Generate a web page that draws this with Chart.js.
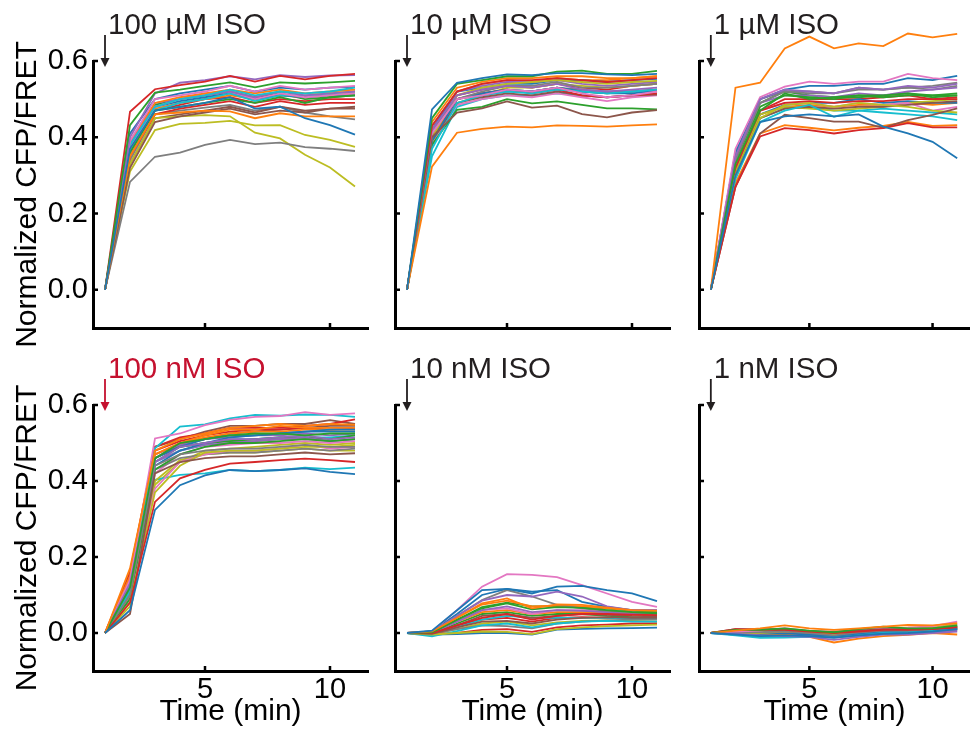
<!DOCTYPE html>
<html>
<head>
<meta charset="utf-8">
<script src="https://cdn.jsdelivr.net/npm/chart.js@4.4.1/dist/chart.umd.min.js"></script>
<style>
  body { margin: 0; background: #fff; }
  #wrap { position: relative; width: 970px; height: 733px; overflow: hidden; }
  #wrap canvas { position: absolute; left: 0; top: 0; }
</style>
</head>
<body>
<div id="wrap"></div>
<script>
// time points (min)
const time = [1, 2, 3, 4, 5, 6, 7, 8, 9, 10, 11]
const xTicks = [5, 10]
const yTicks = [0, 0.2, 0.4, 0.6]
const titles = ['100 µM ISO', '10 µM ISO', '1 µM ISO', '100 nM ISO', '10 nM ISO', '1 nM ISO']

// normalized CFP/FRET, one row per cell
const iso100uM = [
  [0, 0.37, 0.47, 0.48, 0.49, 0.505, 0.475, 0.48, 0.45, 0.432, 0.407],
  [0, 0.35, 0.46, 0.465, 0.47, 0.468, 0.45, 0.463, 0.455, 0.455, 0.455],
  [0, 0.432, 0.517, 0.525, 0.535, 0.544, 0.531, 0.544, 0.541, 0.544, 0.548],
  [0, 0.467, 0.526, 0.537, 0.546, 0.561, 0.546, 0.561, 0.552, 0.561, 0.566],
  [0, 0.40, 0.515, 0.543, 0.55, 0.56, 0.552, 0.563, 0.558, 0.562, 0.563],
  [0, 0.32, 0.44, 0.455, 0.465, 0.475, 0.46, 0.47, 0.465, 0.475, 0.48],
  [0, 0.39, 0.50, 0.51, 0.52, 0.535, 0.52, 0.535, 0.525, 0.53, 0.535],
  [0, 0.283, 0.349, 0.36, 0.38, 0.393, 0.382, 0.386, 0.374, 0.37, 0.364],
  [0, 0.33, 0.45, 0.455, 0.458, 0.455, 0.412, 0.397, 0.354, 0.321, 0.271],
  [0, 0.38, 0.48, 0.50, 0.51, 0.525, 0.51, 0.52, 0.515, 0.52, 0.53],
  [0, 0.41, 0.50, 0.515, 0.525, 0.535, 0.52, 0.53, 0.525, 0.53, 0.532],
  [0, 0.39, 0.49, 0.505, 0.515, 0.525, 0.515, 0.525, 0.515, 0.52, 0.525],
  [0, 0.36, 0.47, 0.48, 0.49, 0.50, 0.49, 0.505, 0.49, 0.505, 0.51],
  [0, 0.35, 0.46, 0.475, 0.485, 0.495, 0.48, 0.495, 0.485, 0.49, 0.49],
  [0, 0.38, 0.49, 0.50, 0.51, 0.52, 0.505, 0.52, 0.51, 0.515, 0.52],
  [0, 0.33, 0.45, 0.46, 0.47, 0.48, 0.465, 0.48, 0.47, 0.475, 0.475],
  [0, 0.37, 0.48, 0.50, 0.515, 0.52, 0.50, 0.515, 0.505, 0.51, 0.515],
  [0, 0.34, 0.46, 0.47, 0.478, 0.485, 0.47, 0.48, 0.465, 0.455, 0.447],
  [0, 0.31, 0.419, 0.435, 0.438, 0.443, 0.431, 0.432, 0.406, 0.393, 0.375],
  [0, 0.36, 0.47, 0.49, 0.50, 0.515, 0.495, 0.51, 0.51, 0.515, 0.52],
  [0, 0.39, 0.48, 0.495, 0.505, 0.515, 0.50, 0.51, 0.505, 0.51, 0.51],
  [0, 0.36, 0.475, 0.49, 0.50, 0.51, 0.50, 0.51, 0.505, 0.51, 0.515],
  [0, 0.38, 0.485, 0.50, 0.51, 0.52, 0.505, 0.515, 0.50, 0.505, 0.51],
  [0, 0.37, 0.47, 0.485, 0.50, 0.505, 0.49, 0.50, 0.495, 0.50, 0.50],
]

const iso10uM = [
  [0, 0.473, 0.543, 0.555, 0.565, 0.563, 0.568, 0.568, 0.565, 0.563, 0.566],
  [0, 0.323, 0.412, 0.422, 0.428, 0.426, 0.431, 0.43, 0.428, 0.431, 0.434],
  [0, 0.45, 0.54, 0.55, 0.56, 0.56, 0.572, 0.575, 0.566, 0.566, 0.574],
  [0, 0.43, 0.52, 0.54, 0.55, 0.55, 0.555, 0.55, 0.545, 0.55, 0.555],
  [0, 0.42, 0.51, 0.525, 0.535, 0.53, 0.54, 0.525, 0.52, 0.525, 0.53],
  [0, 0.40, 0.465, 0.476, 0.494, 0.478, 0.483, 0.461, 0.452, 0.465, 0.471],
  [0, 0.41, 0.50, 0.51, 0.525, 0.52, 0.53, 0.515, 0.505, 0.51, 0.52],
  [0, 0.42, 0.50, 0.52, 0.535, 0.535, 0.545, 0.53, 0.53, 0.535, 0.54],
  [0, 0.40, 0.51, 0.53, 0.54, 0.545, 0.55, 0.545, 0.54, 0.545, 0.548],
  [0, 0.37, 0.49, 0.51, 0.52, 0.515, 0.525, 0.52, 0.515, 0.52, 0.525],
  [0, 0.39, 0.50, 0.515, 0.525, 0.52, 0.53, 0.52, 0.515, 0.515, 0.522],
  [0, 0.44, 0.53, 0.545, 0.555, 0.555, 0.56, 0.56, 0.555, 0.555, 0.56],
  [0, 0.38, 0.472, 0.48, 0.50, 0.489, 0.494, 0.485, 0.476, 0.476, 0.473],
  [0, 0.40, 0.50, 0.515, 0.525, 0.515, 0.525, 0.51, 0.505, 0.51, 0.515],
  [0, 0.43, 0.52, 0.535, 0.545, 0.545, 0.55, 0.54, 0.535, 0.54, 0.545],
  [0, 0.39, 0.49, 0.505, 0.515, 0.51, 0.52, 0.51, 0.505, 0.51, 0.512],
  [0, 0.38, 0.485, 0.50, 0.51, 0.505, 0.515, 0.505, 0.495, 0.505, 0.51],
  [0, 0.41, 0.50, 0.51, 0.52, 0.52, 0.53, 0.525, 0.52, 0.52, 0.525],
  [0, 0.38, 0.49, 0.51, 0.53, 0.53, 0.54, 0.535, 0.53, 0.535, 0.54],
  [0, 0.35, 0.48, 0.50, 0.51, 0.51, 0.515, 0.51, 0.505, 0.51, 0.515],
  [0, 0.42, 0.52, 0.53, 0.54, 0.54, 0.55, 0.55, 0.545, 0.55, 0.553],
  [0, 0.42, 0.52, 0.54, 0.55, 0.545, 0.555, 0.55, 0.55, 0.555, 0.56],
  [0, 0.40, 0.50, 0.515, 0.525, 0.52, 0.53, 0.52, 0.515, 0.52, 0.525],
  [0, 0.41, 0.51, 0.525, 0.535, 0.53, 0.54, 0.53, 0.525, 0.535, 0.54],
]

const iso1uM = [
  [0, 0.30, 0.44, 0.455, 0.46, 0.455, 0.46, 0.428, 0.41, 0.388, 0.345],
  [0, 0.530, 0.543, 0.633, 0.664, 0.633, 0.646, 0.639, 0.672, 0.662, 0.671],
  [0, 0.33, 0.47, 0.515, 0.50, 0.505, 0.51, 0.51, 0.515, 0.505, 0.51],
  [0, 0.27, 0.402, 0.424, 0.419, 0.410, 0.419, 0.424, 0.437, 0.426, 0.426],
  [0, 0.35, 0.50, 0.525, 0.52, 0.515, 0.53, 0.525, 0.535, 0.53, 0.54],
  [0, 0.27, 0.41, 0.459, 0.45, 0.441, 0.441, 0.425, 0.445, 0.459, 0.476],
  [0, 0.37, 0.505, 0.533, 0.546, 0.54, 0.546, 0.546, 0.566, 0.555, 0.55],
  [0, 0.34, 0.49, 0.52, 0.515, 0.515, 0.53, 0.525, 0.53, 0.535, 0.543],
  [0, 0.30, 0.45, 0.485, 0.49, 0.48, 0.49, 0.485, 0.48, 0.47, 0.465],
  [0, 0.29, 0.44, 0.47, 0.485, 0.454, 0.47, 0.465, 0.46, 0.455, 0.445],
  [0, 0.36, 0.50, 0.525, 0.535, 0.535, 0.54, 0.54, 0.555, 0.55, 0.561],
  [0, 0.28, 0.41, 0.432, 0.425, 0.418, 0.425, 0.43, 0.44, 0.43, 0.432],
  [0, 0.34, 0.48, 0.51, 0.505, 0.50, 0.51, 0.505, 0.51, 0.51, 0.515],
  [0, 0.32, 0.47, 0.49, 0.495, 0.49, 0.495, 0.495, 0.50, 0.50, 0.50],
  [0, 0.35, 0.49, 0.51, 0.51, 0.505, 0.515, 0.51, 0.52, 0.525, 0.53],
  [0, 0.30, 0.45, 0.475, 0.48, 0.475, 0.48, 0.48, 0.485, 0.49, 0.495],
  [0, 0.33, 0.47, 0.49, 0.49, 0.48, 0.49, 0.485, 0.49, 0.47, 0.48],
  [0, 0.35, 0.50, 0.52, 0.52, 0.515, 0.525, 0.525, 0.53, 0.525, 0.535],
  [0, 0.31, 0.46, 0.48, 0.475, 0.47, 0.475, 0.48, 0.49, 0.495, 0.50],
  [0, 0.30, 0.45, 0.475, 0.48, 0.47, 0.47, 0.475, 0.47, 0.465, 0.46],
  [0, 0.32, 0.46, 0.485, 0.49, 0.49, 0.50, 0.49, 0.495, 0.49, 0.49],
  [0, 0.31, 0.46, 0.48, 0.485, 0.48, 0.485, 0.485, 0.49, 0.485, 0.49],
  [0, 0.36, 0.49, 0.52, 0.51, 0.505, 0.505, 0.51, 0.515, 0.51, 0.51],
  [0, 0.31, 0.47, 0.50, 0.50, 0.50, 0.50, 0.505, 0.51, 0.50, 0.505],
]

const iso100nM = [
  [0, 0.06, 0.324, 0.389, 0.415, 0.429, 0.426, 0.429, 0.433, 0.424, 0.418],
  [0, 0.17, 0.48, 0.51, 0.525, 0.54, 0.545, 0.55, 0.545, 0.55, 0.548],
  [0, 0.12, 0.46, 0.50, 0.51, 0.52, 0.525, 0.525, 0.52, 0.525, 0.525],
  [0, 0.08, 0.345, 0.407, 0.429, 0.446, 0.45, 0.455, 0.459, 0.455, 0.45],
  [0, 0.13, 0.45, 0.49, 0.50, 0.51, 0.51, 0.515, 0.52, 0.51, 0.515],
  [0, 0.05, 0.42, 0.45, 0.46, 0.465, 0.465, 0.47, 0.475, 0.47, 0.473],
  [0, 0.14, 0.512, 0.525, 0.547, 0.561, 0.569, 0.571, 0.581, 0.574, 0.578],
  [0, 0.10, 0.44, 0.47, 0.48, 0.485, 0.485, 0.49, 0.495, 0.49, 0.49],
  [0, 0.08, 0.37, 0.44, 0.475, 0.48, 0.48, 0.485, 0.49, 0.49, 0.495],
  [0, 0.11, 0.486, 0.543, 0.549, 0.565, 0.574, 0.572, 0.575, 0.574, 0.569],
  [0, 0.11, 0.44, 0.48, 0.50, 0.515, 0.52, 0.525, 0.53, 0.535, 0.535],
  [0, 0.15, 0.47, 0.50, 0.52, 0.535, 0.535, 0.545, 0.54, 0.54, 0.54],
  [0, 0.09, 0.43, 0.47, 0.49, 0.50, 0.50, 0.505, 0.51, 0.505, 0.51],
  [0, 0.16, 0.49, 0.515, 0.525, 0.54, 0.54, 0.54, 0.545, 0.55, 0.562],
  [0, 0.12, 0.45, 0.48, 0.495, 0.50, 0.505, 0.51, 0.515, 0.505, 0.51],
  [0, 0.15, 0.49, 0.51, 0.53, 0.545, 0.545, 0.55, 0.55, 0.56, 0.55],
  [0, 0.09, 0.38, 0.45, 0.47, 0.48, 0.48, 0.485, 0.495, 0.485, 0.49],
  [0, 0.10, 0.43, 0.46, 0.47, 0.475, 0.475, 0.48, 0.485, 0.48, 0.485],
  [0, 0.07, 0.40, 0.455, 0.47, 0.475, 0.475, 0.48, 0.485, 0.48, 0.48],
  [0, 0.12, 0.403, 0.416, 0.42, 0.429, 0.426, 0.429, 0.435, 0.431, 0.435],
  [0, 0.13, 0.46, 0.49, 0.51, 0.52, 0.52, 0.525, 0.53, 0.53, 0.53],
  [0, 0.14, 0.47, 0.50, 0.515, 0.525, 0.53, 0.53, 0.535, 0.535, 0.535],
  [0, 0.11, 0.45, 0.49, 0.50, 0.505, 0.51, 0.515, 0.515, 0.51, 0.52],
  [0, 0.13, 0.48, 0.505, 0.52, 0.53, 0.535, 0.535, 0.54, 0.535, 0.538],
  [0, 0.14, 0.47, 0.495, 0.51, 0.515, 0.52, 0.52, 0.525, 0.52, 0.525],
  [0, 0.12, 0.46, 0.495, 0.51, 0.525, 0.53, 0.535, 0.54, 0.545, 0.545],
  [0, 0.10, 0.42, 0.47, 0.49, 0.495, 0.50, 0.50, 0.505, 0.50, 0.505],
  [0, 0.13, 0.46, 0.49, 0.50, 0.505, 0.505, 0.51, 0.51, 0.505, 0.51],
  [0, 0.09, 0.39, 0.45, 0.48, 0.485, 0.49, 0.495, 0.50, 0.495, 0.50],
  [0, 0.12, 0.45, 0.48, 0.495, 0.51, 0.51, 0.515, 0.515, 0.515, 0.52],
]

const iso10nM = [
  [0, 0.006, 0.06, 0.113, 0.116, 0.104, 0.122, 0.124, 0.113, 0.104, 0.084],
  [0, 0.004, 0.04, 0.078, 0.091, 0.065, 0.075, 0.074, 0.067, 0.06, 0.058],
  [0, 0.002, 0.035, 0.065, 0.078, 0.062, 0.068, 0.066, 0.06, 0.055, 0.052],
  [0, 0.0, 0.02, 0.04, 0.05, 0.035, 0.045, 0.05, 0.05, 0.048, 0.047],
  [0, 0.003, 0.045, 0.085, 0.10, 0.096, 0.109, 0.096, 0.07, 0.06, 0.06],
  [0, -0.002, 0.015, 0.03, 0.032, 0.025, 0.035, 0.04, 0.042, 0.04, 0.04],
  [0, 0.004, 0.06, 0.122, 0.155, 0.153, 0.147, 0.126, 0.104, 0.082, 0.069],
  [0, 0.002, 0.045, 0.087, 0.113, 0.096, 0.074, 0.065, 0.058, 0.055, 0.05],
  [0, -0.004, 0.0, 0.004, 0.003, -0.003, 0.01, 0.015, 0.018, 0.02, 0.022],
  [0, -0.009, 0.005, 0.02, 0.025, 0.015, 0.025, 0.03, 0.032, 0.03, 0.03],
  [0, -0.004, -0.003, 0.0, 0.0, -0.004, 0.009, 0.011, 0.012, 0.013, 0.014],
  [0, 0.002, 0.04, 0.075, 0.085, 0.07, 0.072, 0.07, 0.065, 0.06, 0.06],
  [0, 0.001, 0.035, 0.068, 0.08, 0.07, 0.07, 0.068, 0.065, 0.058, 0.055],
  [0, -0.003, 0.0, 0.008, 0.01, 0.003, 0.015, 0.02, 0.022, 0.025, 0.025],
  [0, 0.0, 0.03, 0.06, 0.07, 0.055, 0.06, 0.058, 0.055, 0.05, 0.05],
  [0, -0.001, 0.02, 0.045, 0.05, 0.04, 0.045, 0.05, 0.048, 0.045, 0.044],
  [0, 0.001, 0.03, 0.06, 0.065, 0.05, 0.06, 0.06, 0.055, 0.05, 0.048],
  [0, -0.002, 0.01, 0.02, 0.018, 0.012, 0.025, 0.03, 0.033, 0.035, 0.035],
  [0, -0.003, 0.01, 0.025, 0.03, 0.02, 0.028, 0.032, 0.033, 0.032, 0.03],
  [0, -0.005, 0.015, 0.035, 0.045, 0.04, 0.04, 0.04, 0.04, 0.038, 0.038],
  [0, 0.004, 0.05, 0.10, 0.116, 0.109, 0.113, 0.082, 0.069, 0.06, 0.058],
  [0, 0.001, 0.03, 0.055, 0.06, 0.05, 0.055, 0.055, 0.052, 0.05, 0.05],
  [0, 0.0, 0.025, 0.05, 0.055, 0.045, 0.05, 0.05, 0.045, 0.042, 0.04],
  [0, 0.0, 0.02, 0.035, 0.04, 0.03, 0.04, 0.042, 0.04, 0.038, 0.037],
]

const iso1nM = [
  [0, -0.004, -0.008, -0.006, -0.008, -0.012, -0.006, -0.002, 0.0, 0.004, 0.01],
  [0, 0.006, 0.012, 0.02, 0.012, 0.008, 0.012, 0.017, 0.021, 0.02, 0.026],
  [0, 0.008, 0.008, 0.012, 0.006, 0.002, 0.01, 0.017, 0.012, 0.012, 0.02],
  [0, 0.01, 0.008, 0.008, 0.004, 0.0, 0.004, 0.008, 0.008, 0.01, 0.014],
  [0, -0.002, -0.006, -0.008, -0.01, -0.018, -0.01, -0.004, -0.004, 0.0, 0.004],
  [0, 0.01, 0.01, 0.01, 0.005, 0.002, 0.006, 0.01, 0.01, 0.012, 0.016],
  [0, 0.004, 0.006, 0.013, 0.005, 0.004, 0.008, 0.012, 0.014, 0.018, 0.03],
  [0, 0.002, 0.002, 0.004, 0.0, -0.006, 0.002, 0.006, 0.006, 0.01, 0.018],
  [0, 0.0, 0.0, 0.004, 0.002, -0.004, 0.004, 0.008, 0.01, 0.014, 0.022],
  [0, -0.006, -0.013, -0.012, -0.01, -0.012, -0.006, 0.0, 0.002, 0.006, 0.01],
  [0, 0.0, -0.002, 0.0, -0.004, -0.008, -0.002, 0.002, 0.004, 0.006, 0.012],
  [0, -0.002, -0.006, -0.004, -0.01, -0.025, -0.015, -0.008, -0.005, 0.0, -0.004],
  [0, 0.004, 0.004, 0.006, 0.002, -0.002, 0.006, 0.01, 0.008, 0.01, 0.016],
  [0, 0.006, 0.004, 0.002, -0.002, -0.006, 0.0, 0.004, 0.004, 0.008, 0.01],
  [0, 0.0, -0.004, -0.004, -0.006, -0.012, -0.006, 0.0, 0.0, 0.004, 0.006],
  [0, 0.004, 0.002, 0.006, 0.0, -0.004, 0.002, 0.006, 0.008, 0.01, 0.012],
  [0, 0.002, 0.004, 0.008, 0.002, -0.002, 0.004, 0.008, 0.012, 0.014, 0.024],
  [0, 0.0, 0.0, 0.0, -0.004, -0.008, -0.002, 0.004, 0.006, 0.008, 0.014],
  [0, 0.002, 0.002, 0.006, 0.0, -0.006, 0.002, 0.006, 0.008, 0.012, 0.018],
  [0, -0.004, -0.01, -0.008, -0.008, -0.01, -0.004, 0.0, 0.002, 0.004, 0.008],
]

const panelData = [iso100uM, iso10uM, iso1uM, iso100nM, iso10nM, iso1nM]

// layout + style
const tab10 = ['#1f77b4', '#ff7f0e', '#2ca02c', '#d62728', '#9467bd',
               '#8c564b', '#e377c2', '#7f7f7f', '#bcbd22', '#17becf']
const titleColors = ['#231f20', '#231f20', '#231f20', '#c5112f', '#231f20', '#231f20']
const W = 970, H = 733
const colLeft = [93, 395, 699]
const rowTop = [61, 405]
const rowBottom = [328, 671]
const plotW = 275
const fontFam = '"Liberation Sans", Arial, Helvetica, sans-serif'

// panel title, stimulus arrow and inward tick marks
const decor = {
    id: 'decor',
    afterDraw(chart, args, opts) {
        const { ctx, chartArea } = chart
        const xs = chart.scales.x, ys = chart.scales.y
        ctx.save()
        ctx.strokeStyle = '#000'
        ctx.lineWidth = 2.5
        ctx.beginPath()
        yTicks.forEach(v => {
            const y = ys.getPixelForValue(v)
            ctx.moveTo(chartArea.left, y)
            ctx.lineTo(chartArea.left + 5, y)
        })
        xTicks.forEach(v => {
            const x = xs.getPixelForValue(v)
            ctx.moveTo(x, chartArea.bottom)
            ctx.lineTo(x, chartArea.bottom - 5)
        })
        ctx.stroke()

        const ax = xs.getPixelForValue(time[0])
        const top = chartArea.top
        ctx.strokeStyle = opts.color
        ctx.fillStyle = opts.color
        ctx.lineWidth = 1.8
        ctx.beginPath()
        ctx.moveTo(ax, top - 26)
        ctx.lineTo(ax, top)
        ctx.stroke()
        ctx.beginPath()
        ctx.moveTo(ax - 4.5, top - 3)
        ctx.lineTo(ax + 4.5, top - 3)
        ctx.lineTo(ax, top + 6)
        ctx.closePath()
        ctx.fill()

        ctx.font = '29.5px ' + fontFam
        ctx.textAlign = 'left'
        ctx.textBaseline = 'alphabetic'
        ctx.fillText(opts.title, ax + 3, top - 27.5)
        ctx.restore()
    }
}

const wrap = document.getElementById('wrap')

panelData.forEach((rows, i) => {
    const col = i % 3
    const row = Math.floor(i / 3)
    const showY = col === 0
    const showX = row === 1
    const yW = showY ? 93 : 0
    const xH = showX ? 62 : 0

    const cv = document.createElement('canvas')
    cv.width = W
    cv.height = H
    wrap.appendChild(cv)

    const datasets = rows.map((vals, k) => ({
        data: vals.map((v, j) => ({ x: time[j], y: v })),
        borderColor: tab10[k % 10],
        borderWidth: 1.8,
        pointRadius: 0,
        tension: 0,
        clip: false,
    }))

    new Chart(cv, {
        type: 'line',
        data: { datasets },
        options: {
            responsive: false,
            animation: false,
            devicePixelRatio: 1,
            layout: {
                padding: {
                    left: colLeft[col] - yW,
                    right: W - colLeft[col] - plotW,
                    top: rowTop[row],
                    bottom: H - rowBottom[row] - xH,
                },
            },
            plugins: {
                legend: { display: false },
                tooltip: { enabled: false },
                decor: { title: titles[i], color: titleColors[i] },
            },
            scales: {
                x: {
                    type: 'linear',
                    min: 0.52,
                    max: 11.52,
                    afterBuildTicks: s => { s.ticks = xTicks.map(v => ({ value: v })) },
                    afterFit: s => { s.height = xH },
                    grid: { display: false, drawTicks: false },
                    border: { display: true, color: '#000', width: 3 },
                    ticks: { display: showX, padding: 2, color: '#000', font: { family: fontFam, size: 29 } },
                    title: {
                        display: showX,
                        text: 'Time (min)',
                        color: '#000',
                        font: { family: fontFam, size: 30 },
                        padding: { top: 0, bottom: 3 },
                    },
                },
                y: {
                    min: -0.1,
                    max: 0.6,
                    afterBuildTicks: s => { s.ticks = yTicks.map(v => ({ value: v })) },
                    afterFit: s => { s.width = yW },
                    grid: { display: false, drawTicks: false },
                    border: { display: true, color: '#000', width: 3 },
                    ticks: {
                        display: showY,
                        padding: 5,
                        color: '#000',
                        font: { family: fontFam, size: 29 },
                        callback: v => v.toFixed(1),
                    },
                    title: {
                        display: showY,
                        text: 'Normalized CFP/FRET',
                        color: '#000',
                        font: { family: fontFam, size: 30 },
                        padding: { top: 10, bottom: 0 },
                    },
                },
            },
        },
        plugins: [decor],
    })
})
</script>
</body>
</html>
